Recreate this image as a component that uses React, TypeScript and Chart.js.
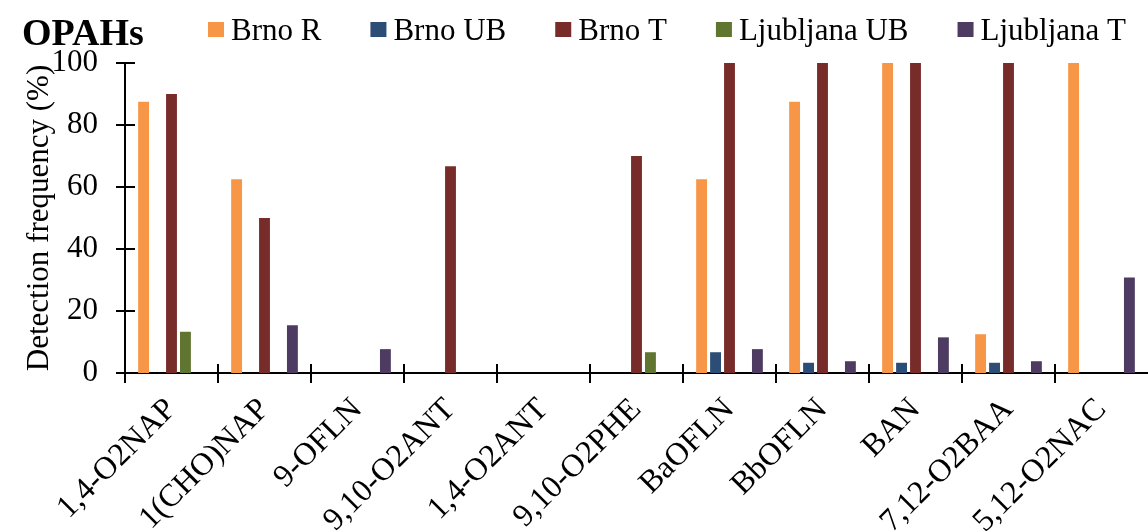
import { useEffect, useRef } from 'react';
import { Chart, registerables } from 'chart.js';

Chart.register(...registerables);

const FONT = '"Liberation Serif", "Times New Roman", serif';

const categories = ['1,4-O2NAP', '1(CHO)NAP', '9-OFLN', '9,10-O2ANT', '1,4-O2ANT', '9,10-O2PHE', 'BaOFLN', 'BbOFLN', 'BAN', '7,12-O2BAA', '5,12-O2NAC'];
const seriesNames = ['Brno R', 'Brno UB', 'Brno T', 'Ljubljana UB', 'Ljubljana T'];
const brnoR = [87.5, 62.5, 0, 0, 0, 0, 62.5, 87.5, 100, 12.5, 100];
const brnoUB = [0, 0, 0, 0, 0, 0, 6.7, 3.3, 3.3, 3.3, 0];
const brnoT = [90, 50, 0, 66.7, 0, 70, 100, 100, 100, 100, 0];
const ljubljanaUB = [13.3, 0, 0, 0, 0, 6.7, 0, 0, 0, 0, 0];
const ljubljanaT = [0, 15.4, 7.7, 0, 0, 0, 7.7, 3.8, 11.5, 3.8, 30.8];
const yTicks = [0, 20, 40, 60, 80, 100];
const chartTitle = 'OPAHs';
const yAxisTitle = 'Detection frequency (%)';

const colors = ['#F79646', '#2C4D75', '#772C2A', '#5F7530', '#4D3B62'];

export default function App() {
  const ref = useRef<HTMLCanvasElement>(null);

  useEffect(() => {
    if (!ref.current) return;

    const titlePlugin = {
      id: 'cornerTitle',
      afterDraw(chart: any) {
        const ctx = chart.ctx;
        ctx.save();
        ctx.font = `bold 38px ${FONT}`;
        ctx.fillStyle = '#000';
        ctx.textBaseline = 'alphabetic';
        ctx.textAlign = 'left';
        ctx.fillText(chartTitle, 22, 45);
        ctx.restore();
      },
    };

    const legendPlugin = {
      id: 'rowLegend',
      afterDraw(chart: any) {
        const ctx = chart.ctx;
        ctx.save();
        ctx.font = `31px ${FONT}`;
        ctx.textBaseline = 'alphabetic';
        ctx.textAlign = 'left';
        let x = 208;
        chart.data.datasets.forEach((ds: any) => {
          ctx.fillStyle = ds.backgroundColor;
          ctx.fillRect(x, 22, 16, 15);
          ctx.fillStyle = '#000';
          ctx.fillText(ds.label, x + 23, 40);
          x += 23 + ctx.measureText(ds.label).width + 49;
        });
        ctx.restore();
      },
    };

    const crossTicksPlugin = {
      id: 'crossTicks',
      afterDraw(chart: any) {
        const ctx = chart.ctx;
        const xs = chart.scales.x;
        const ys = chart.scales.y;
        ctx.save();
        ctx.strokeStyle = '#000';
        ctx.lineWidth = 2;
        ctx.beginPath();
        ys.ticks.forEach((t: any) => {
          const py = ys.getPixelForValue(t.value);
          ctx.moveTo(xs.left - 9, py);
          ctx.lineTo(xs.left + 10, py);
        });
        const n = categories.length;
        for (let i = 1; i < n; i++) {
          const px = (xs.getPixelForTick(i - 1) + xs.getPixelForTick(i)) / 2;
          ctx.moveTo(px, ys.bottom - 9);
          ctx.lineTo(px, ys.bottom + 10);
        }
        ctx.moveTo(xs.left, ys.bottom - 9);
        ctx.lineTo(xs.left, ys.bottom + 10);
        ctx.stroke();
        ctx.restore();
      },
    };

    const seriesData = [brnoR, brnoUB, brnoT, ljubljanaUB, ljubljanaT];

    const chart = new Chart(ref.current, {
      type: 'bar',
      data: {
        labels: categories,
        datasets: seriesNames.map((name, i) => ({
          label: name,
          data: seriesData[i],
          backgroundColor: colors[i],
          borderWidth: 0,
          categoryPercentage: 0.75,
          barPercentage: 0.78,
        })),
      },
      options: {
        responsive: true,
        maintainAspectRatio: false,
        animation: false,
        layout: { padding: { top: 63, left: 0, right: 0, bottom: 0 } },
        plugins: {
          legend: { display: false },
          title: { display: false },
          tooltip: { enabled: false },
        },
        scales: {
          x: {
            grid: { display: false, drawTicks: false },
            border: { display: true, color: '#000', width: 2 },
            ticks: {
              font: { family: FONT, size: 32 },
              color: '#000',
              minRotation: 45,
              maxRotation: 45,
              autoSkip: false,
              padding: 18,
            },
            afterFit: (s: any) => {
              s.height = 158;
              s.paddingLeft = 0;
              s.paddingRight = 0;
            },
          },
          y: {
            min: 0,
            max: 100,
            afterBuildTicks: (s: any) => {
              s.ticks = yTicks.map((v) => ({ value: v }));
            },
            grid: { display: false, drawTicks: false },
            border: { display: true, color: '#000', width: 2 },
            ticks: {
              font: { family: FONT, size: 31 },
              color: '#000',
              padding: 27,
            },
            title: {
              display: true,
              text: yAxisTitle,
              font: { family: FONT, size: 31 },
              color: '#000',
              padding: { top: 21, bottom: 0 },
            },
            afterFit: (s: any) => {
              s.width = 125;
              s.paddingTop = 0;
              s.paddingBottom = 0;
            },
          },
        },
      },
      plugins: [titlePlugin, legendPlugin, crossTicksPlugin],
    });

    return () => chart.destroy();
  }, []);

  return (
    <div style={{ position: 'absolute', left: 0, top: 0, width: 1148, height: 531 }}>
      <canvas ref={ref} />
    </div>
  );
}
